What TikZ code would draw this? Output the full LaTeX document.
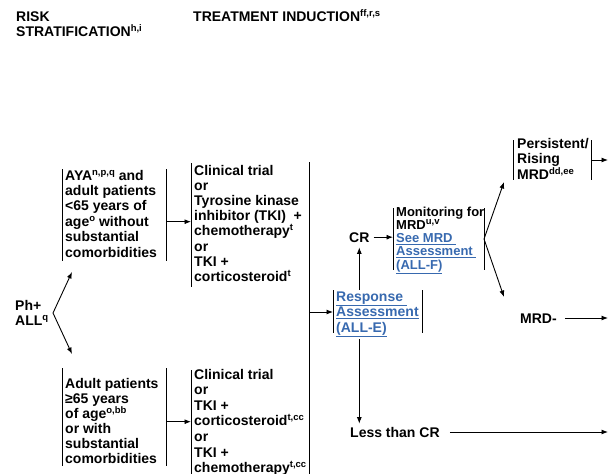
\documentclass[tikz,border=0pt]{standalone}
\usepackage{fontspec}
\setmainfont{Liberation Sans}
\usetikzlibrary{arrows.meta}
\definecolor{linkblue}{RGB}{55,105,175}
\newcommand\RT[1]{\hbox{#1}}
\newcommand\sups[1]{\raisebox{5pt}{\fontsize{9.5}{10}\selectfont #1}}
\newcommand\lk[1]{\textcolor{linkblue}{\underline{#1}}}
\begin{document}
\begin{tikzpicture}[x=1pt,y=-1pt,
  font=\fontsize{14}{15.4}\selectfont\bfseries,
  txt/.style={anchor=base west, inner sep=0pt},
  frame/.style={anchor=north west, inner sep=0pt, outer sep=0pt},
  bar/.style={line width=1pt},
  arr/.style={line width=0.9pt, -{Latex[length=6.5pt,width=5pt]}}]
\useasboundingbox (0,0) rectangle (608,474);

% headers
\node[txt] (risk) at (16,21) {\vtop{\baselineskip=15pt\RT{RISK}\RT{STRATIFICATION\sups{h,i}}}};
\node[txt] (induct) at (193,21) {\RT{TREATMENT INDUCTION\sups{ff,r,s}}};

% Ph+ ALL
\node[txt] (ph) at (15,310) {\vtop{\baselineskip=15pt\RT{Ph+}\RT{ALL\sups{q}}}};
\coordinate (v) at (53,313);
\coordinate (vu) at (72,272);
\coordinate (vd) at (72,354);
\draw[arr] (v) -- (vu);
\draw[arr] (v) -- (vd);

% AYA box
\node[frame, minimum width=104pt, minimum height=92pt] (aya) at (62,169) {};
\draw[bar] (aya.north west) -- (aya.south west) (aya.north east) -- (aya.south east);
\node[txt] (ayat) at (65,180) {\vtop{\baselineskip=15.4pt
  \RT{AYA\sups{n,p,q} and}\RT{adult patients}\RT{<65 years of}\RT{age\sups{o} without}\RT{substantial}\RT{comorbidities}}};

% Adult box
\node[frame, minimum width=104pt, minimum height=98pt] (adult) at (62,368) {};
\draw[bar] (adult.north west) -- (adult.south west) (adult.north east) -- (adult.south east);
\node[txt] (adultt) at (65,388) {\vtop{\baselineskip=15.1pt
  \RT{Adult patients}\RT{≥65 years}\RT{of age\sups{o,bb}}\RT{or with}\RT{substantial}\RT{comorbidities}}};

% Treatment boxes
\node[frame, minimum width=118pt, minimum height=124pt] (tr1) at (191,163) {};
\node[frame, minimum width=118pt, minimum height=104pt] (tr2) at (191,370) {};
\draw[bar] (tr1.north west) -- (tr1.south west) (tr2.north west) -- (tr2.south west);
\draw[bar] ([yshift=1pt]tr1.north east) -- (tr2.south east);
\node[txt] (tr1t) at (194,175) {\vtop{\baselineskip=15.2pt
  \RT{Clinical trial}\RT{or}\RT{Tyrosine kinase}\RT{inhibitor (TKI)\ \ +}\RT{chemotherapy\sups{t}}\RT{or}\RT{TKI +}\RT{corticosteroid\sups{t}}}};
\node[txt] (tr2t) at (194,379) {\vtop{\baselineskip=15.6pt
  \RT{Clinical trial}\RT{or}\RT{TKI +}\RT{corticosteroid\sups{t,cc}}\RT{or}\RT{TKI +}\RT{chemotherapy\sups{t,cc}}}};

\path ([yshift=-6.7pt]aya.east) coordinate (a1);
\draw[arr] (a1) -- (a1 -| tr1.west);
\path ([yshift=-4.7pt]adult.east) coordinate (a2);
\draw[arr] (a2) -- (a2 -| tr2.west);

% Response assessment
\node[frame, minimum width=89pt, minimum height=43pt] (resp) at (333,290) {};
\draw[bar] (resp.north west) -- (resp.south west) (resp.north east) -- (resp.south east);
\node[txt] (respt) at (336,301) {\vtop{\baselineskip=15.5pt
  \RT{\lk{Response\ }}\RT{\lk{Assessment}}\RT{\lk{(ALL-E)}}}};
\path (resp.west) ++(0,0.5) coordinate (a3);
\draw[arr] (a3 -| tr1.east) -- (a3);

% CR
\node[txt, inner xsep=4pt, inner ysep=0pt] (cr) at (345,242) {CR};
\draw[arr] (cr.south |- resp.north) -- ([yshift=-5pt]cr.south);

% Less than CR
\node[txt, inner xsep=10pt, inner ysep=3pt] (lcr) at (340,437) {Less than CR};
\draw[arr] ([yshift=-6pt]cr.south |- resp.south) -- (cr.south |- lcr.north);

% Monitoring
\node[frame, minimum width=91pt, minimum height=62pt] (mon) at (393,208) {};
\draw[bar] (mon.north west) -- (mon.south west) (mon.north east) -- (mon.south east);
\node[txt] (mont) at (396,216) {\fontsize{13}{13.3}\selectfont\vtop{\baselineskip=13.3pt
  \RT{Monitoring for}\RT{MRD\sups{u,v}}\RT{\lk{See MRD\ }}\RT{\lk{Assessment\ }}\RT{\lk{(ALL-F)}}}};
\draw[arr] (cr.east) -- (cr.east -| mon.west);

\coordinate (mu) at (504,182);
\coordinate (md) at (504,297);
\draw[arr] (mon.east) -- (mu);
\draw[arr] (mon.east) -- (md);

% Persistent
\node[frame, minimum width=78pt, minimum height=40pt] (pers) at (513,140) {};
\draw[bar] (pers.north west) -- (pers.south west) (pers.north east) -- (pers.south east);
\node[txt] (perst) at (517,148.5) {\vtop{\baselineskip=14.8pt
  \RT{Persistent/}\RT{Rising}\RT{MRD\sups{dd,ee}}}};

% MRD-
\node[txt, inner xsep=8pt, inner ysep=0pt] (mrdn) at (512,323) {MRD-};

% right edge
\coordinate (edge) at (608,0);
\draw[arr] (pers.east) -- (pers.east -| edge);
\path ([yshift=5pt]mrdn.base east) coordinate (a4);
\draw[arr] (a4) -- (a4 -| edge);
\draw[arr] (lcr.east) -- (lcr.east -| edge);
\end{tikzpicture}
\end{document}
